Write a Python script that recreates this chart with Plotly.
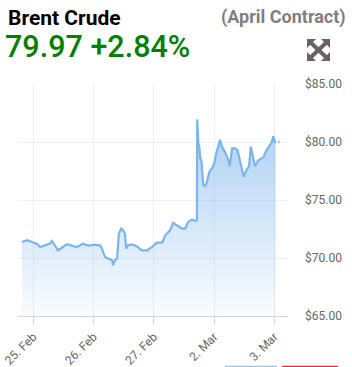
import plotly.graph_objects as go

# ---- data ----
day_pos = [-0.19, -0.10, 0.00, 0.06, 0.11, 0.19, 0.28, 0.31, 0.36, 0.41, 0.49, 0.56, 0.64,
           0.73, 0.82, 0.91, 1.02, 1.11, 1.14, 1.19, 1.24, 1.31, 1.32, 1.36, 1.39, 1.42,
           1.46, 1.49, 1.52, 1.54, 1.57, 1.64, 1.72, 1.80, 1.89, 1.97, 2.05, 2.14, 2.19,
           2.27, 2.32, 2.39, 2.47, 2.52, 2.57, 2.63, 2.70, 2.715, 2.72, 2.74, 2.755, 2.77,
           2.79, 2.82, 2.85, 2.88, 2.92, 2.96, 3.00, 3.04, 3.09, 3.10, 3.13, 3.18, 3.24,
           3.26, 3.30, 3.35, 3.39, 3.43, 3.49, 3.54, 3.58, 3.61, 3.65, 3.68, 3.73, 3.82,
           3.87, 3.93, 3.96, 3.98, 4.02]
price = [71.38, 71.53, 71.33, 71.24, 70.95, 71.10, 71.25, 71.47, 71.10, 70.66, 70.95, 71.18, 71.07,
         70.95, 71.24, 71.07, 71.15, 71.07, 70.80, 70.09, 69.95, 69.80, 69.37, 69.86, 69.95, 72.10,
         72.53, 72.39, 72.10, 70.80, 71.10, 71.18, 71.00, 70.66, 70.66, 70.95, 71.33, 71.33, 71.96,
         72.39, 73.02, 72.82, 72.53, 72.53, 73.11, 73.31, 73.20, 73.30, 81.95, 79.90, 79.60, 78.60,
         78.40, 76.30, 76.20, 76.50, 77.40, 77.70, 78.10, 79.10, 80.00, 80.20, 79.60, 79.15, 78.40,
         77.90, 79.45, 79.45, 79.30, 78.30, 77.00, 77.60, 77.90, 79.60, 78.60, 77.90, 78.40, 78.70,
         79.30, 79.70, 80.00, 80.50, 79.90]
last_pos = [4.07, 4.09]
last_price = [80.00, 80.08]

tick_vals = [0, 1, 2, 3, 4]
tick_text = ["25. Feb", "26. Feb", "27. Feb", "2. Mar", "3. Mar"]
y_ticks = [65, 70, 75, 80, 85]
y_tick_text = ["$65.00", "$70.00", "$75.00", "$80.00", "$85.00"]

title_name = "Brent Crude"
title_price = "79.97 +2.84%"
title_contract = "(April Contract)"

# ---- layout helpers (pixel -> paper) ----
L, R, T, B = 18, 288, 84, 315.6
W, H = 352, 367
def px(x):
    return (x - L) / (R - L)
def py(y):
    return (B - y) / (B - T)

line_col = "#7cb5ec"
FONT = "Roboto, Arial, sans-serif"

fig = go.Figure()
fig.add_trace(go.Scatter(
    x=day_pos, y=price, mode="lines",
    line=dict(color=line_col, width=2.2),
    fill="tozeroy",
    fillgradient=dict(type="vertical", start=65, stop=82,
                      colorscale=[[0, "rgba(124,181,236,0.04)"], [1, "rgba(124,181,236,0.64)"]]),
    hoverinfo="skip", showlegend=False))
fig.add_trace(go.Scatter(
    x=last_pos, y=last_price, mode="lines",
    line=dict(color=line_col, width=2.2), hoverinfo="skip", showlegend=False))

fig.update_layout(
    width=W, height=H, autosize=False,
    margin=dict(l=L, r=W - R, t=T, b=H - B, autoexpand=False),
    paper_bgcolor="white", plot_bgcolor="white",
    font=dict(family=FONT, color="#666666", size=12),
    xaxis=dict(range=[-0.254, 4.227], tickvals=tick_vals, ticktext=tick_text,
               tickangle=-45, showgrid=True, gridcolor="#efefef", gridwidth=1,
               showline=True, linecolor="#ccd6eb", linewidth=1,
               ticks="outside", ticklen=8, tickcolor="#ccd6eb", automargin=False,
               tickfont=dict(size=12, color="#666666"), zeroline=False, fixedrange=True),
    yaxis=dict(range=[65, 85], tickvals=y_ticks, ticktext=y_tick_text,
               side="right", showgrid=True, gridcolor="#efefef", gridwidth=1,
               zeroline=False, showline=False, ticks="", ticklabelstandoff=16,
               automargin=False,
               tickfont=dict(size=12, color="#666666"), fixedrange=True),
)

annotations = [
    dict(text="<b>" + title_name + "</b>", x=px(6), y=py(18), xanchor="left", yanchor="middle",
         font=dict(size=21, color="#000000", family=FONT)),
    dict(text=title_price, x=px(3), y=py(47), xanchor="left", yanchor="middle",
         font=dict(size=30.5, color="#008000", family=FONT, weight=500)),
    dict(text="<b>" + title_contract + "</b>", x=px(348), y=py(17), xanchor="right", yanchor="middle",
         font=dict(size=18, color="#7f7f7f", family=FONT)),
]
for a in annotations:
    a.update(xref="paper", yref="paper", showarrow=False)
fig.update_layout(annotations=annotations)

# expand icon + bottom coloured bars
icon_col = "#6b6163"
shapes = []
def tri(p):
    path = "M " + " L ".join(f"{px(x)},{py(y)}" for x, y in p) + " Z"
    return dict(type="path", path=path, xref="paper", yref="paper",
                fillcolor=icon_col, line=dict(width=0))
shapes.append(tri([(307, 39), (316, 39), (307, 48)]))
shapes.append(tri([(330, 39), (321, 39), (330, 48)]))
shapes.append(tri([(307, 61), (316, 61), (307, 52)]))
shapes.append(tri([(330, 61), (321, 61), (330, 52)]))
for (x0, y0, x1, y1) in [(309, 41, 328, 59), (328, 41, 309, 59)]:
    shapes.append(dict(type="line", xref="paper", yref="paper", x0=px(x0), y0=py(y0),
                       x1=px(x1), y1=py(y1), line=dict(color=icon_col, width=4)))
shapes.append(dict(type="line", xref="paper", yref="paper", x0=px(225), y0=py(366.3),
                   x1=px(277), y1=py(366.3), line=dict(color="#9ac6dc", width=2)))
shapes.append(dict(type="line", xref="paper", yref="paper", x0=px(282), y0=py(366.3),
                   x1=px(338), y1=py(366.3), line=dict(color="#e32b2b", width=2)))
fig.update_layout(shapes=shapes)

fig.write_html("out.html", config=dict(displayModeBar=False))
